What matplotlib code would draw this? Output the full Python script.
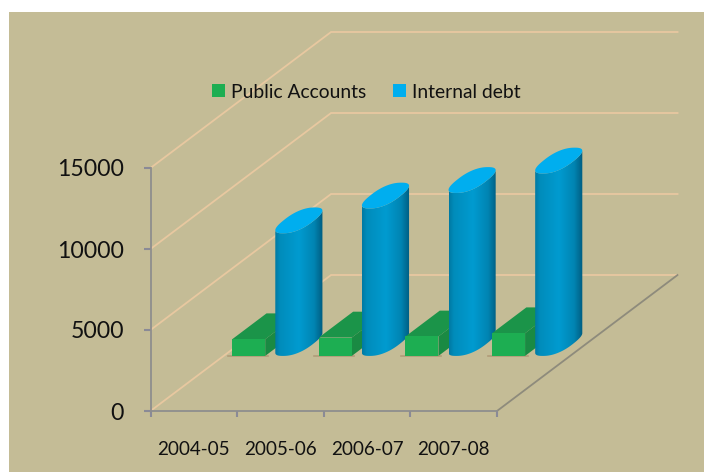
import numpy as np
import matplotlib
matplotlib.use("Agg")
import matplotlib.pyplot as plt
from matplotlib.patches import Rectangle, Polygon, Patch

years = ["2004-05", "2005-06", "2006-07", "2007-08"]
public_accounts = [1030, 1135, 1200, 1400]
internal_debt = [7570, 9100, 10060, 11260]
value_ticks = [0, 5000, 10000, 15000]

W, H = 704, 472
fig = plt.figure(figsize=(W / 100, H / 100), dpi=100, facecolor="white")
fig.patches.append(Rectangle((9 / W, 0), 1, 1 - 12 / H, transform=fig.transFigure,
                             facecolor="#C4BC96", edgecolor="none", zorder=-10))

ax = fig.add_axes([150.5 / W, 1 - 411 / H, 346.5 / W, 243 / H])
ax.patch.set_visible(False)

# Oblique projection: unit depth shifts a point right and up in data units
DEPTH_X = 180.5 / 86.6
DEPTH_Y = 136 / 243 * 15000
BAR_W = 0.381
BAR_D = 0.19
MID_D = 0.5
GROUP_X = 0.48


def pt(x, v, d):
    return (x + d * DEPTH_X, v + d * DEPTH_Y)


def poly(points, color, z):
    ax.add_patch(Polygon(points, closed=True, facecolor=color, edgecolor="none",
                         zorder=z, clip_on=False))


# Wall gridlines and floor edge
for v in value_ticks:
    a, b, c = pt(0, v, 0), pt(0, v, 1), pt(4, v, 1)
    ax.plot([a[0], b[0], c[0]], [a[1], b[1], c[1]], color="#E8C8A0", lw=1.3,
            zorder=1, clip_on=False, solid_joinstyle="miter")
a, b = pt(4, 0, 0), pt(4, 0, 1)
ax.plot([a[0], b[0]], [a[1], b[1]], color="#8E8B7C", lw=1.3, zorder=1, clip_on=False)

stops = [0.0, 0.1, 0.5, 0.82, 1.0]
cols = np.array([[0, 122, 163], [0, 140, 187], [0, 155, 208], [0, 132, 178], [0, 92, 128]]) / 255
xs = np.linspace(0, 1, 128)
gradient = np.stack([np.interp(xs, stops, cols[:, k]) for k in range(3)], axis=-1)[None, :, :]


def box(x0, value, z):
    d0, d1 = MID_D - BAR_D / 2, MID_D + BAR_D / 2
    x1 = x0 + BAR_W
    # contact shadow under the front edge
    s0, s1 = pt(x0 - 0.05, 0, d0), pt(x1 + 0.03, 0, d0)
    ax.plot([s0[0], s1[0]], [s0[1], s1[1]], color="#B09C78", lw=1.2, zorder=z, clip_on=False)
    poly([pt(x0, value, d0), pt(x1, value, d0), pt(x1, value, d1), pt(x0, value, d1)], "#1B9449", z + 0.1)
    poly([pt(x1, 0, d0), pt(x1, 0, d1), pt(x1, value, d1), pt(x1, value, d0)], "#1A8A43", z + 0.1)
    poly([pt(x0, 0, d0), pt(x1, 0, d0), pt(x1, value, d0), pt(x0, value, d0)], "#1DAE52", z + 0.2)


def cylinder(x0, value, z):
    rx, rd = BAR_W / 2, BAR_D / 2
    cx = x0 + rx
    mid_x = pt(cx, 0, MID_D)[0]
    t = np.linspace(0, 2 * np.pi, 361)[:-1]
    # slightly squared-off footprint gives the blunt ends of the cap
    c = np.sign(np.cos(t)) * np.abs(np.cos(t)) ** 0.82
    s = np.sign(np.sin(t)) * np.abs(np.sin(t)) ** 0.82
    xr = mid_x + (pt(cx + rx * c, 0, MID_D + rd * s)[0] - mid_x) * 0.93
    yr = pt(cx + rx * c, 0, MID_D + rd * s)[1] - pt(cx, 0, MID_D)[1]
    base_y = pt(cx, 0, MID_D)[1]

    i_max, i_min = int(np.argmax(xr)), int(np.argmin(xr))
    order = (i_min + np.arange(((i_max - i_min) % t.size) + 1)) % t.size
    outline = np.vstack([np.column_stack([xr[order], base_y + yr[order]]),
                         np.column_stack([xr[order[::-1]], base_y + value + yr[order[::-1]]])])
    body = Polygon(outline, closed=True, facecolor="none", edgecolor="none",
                   transform=ax.transData, zorder=z)
    ax.add_patch(body)
    im = ax.imshow(gradient, extent=(xr.min(), xr.max(), outline[:, 1].min(), outline[:, 1].max()),
                   aspect="auto", zorder=z, interpolation="bilinear")
    im.set_clip_path(body)
    im.set_clip_box(fig.bbox)
    poly(np.column_stack([xr, base_y + value + yr]), "#00AEEF", z + 0.1)


for i, (g, b) in enumerate(zip(public_accounts, internal_debt)):
    base = 2 + i
    box(i + GROUP_X - BAR_W, g, base)
    cylinder(i + GROUP_X, b, base + 0.5)

ax.set_xlim(0, 4)
ax.set_ylim(0, 15000)

for side in ("top", "right"):
    ax.spines[side].set_visible(False)
for side in ("left", "bottom"):
    ax.spines[side].set_color("#8E8E8E")
    ax.spines[side].set_linewidth(1.3)

ax.set_yticks(value_ticks)
ax.set_xticks(range(5))
ax.set_xticklabels([])
ax.set_xticks(np.arange(len(years)) + 0.5, labels=years, minor=True)
ax.tick_params(axis="x", which="major", length=4, width=1.5, color="#8A8A96")
ax.tick_params(axis="x", which="minor", length=0, pad=21.5, labelsize=13.6, labelcolor="#111111")
ax.tick_params(axis="y", length=5, width=1.5, color="#8A8A96", pad=14,
               labelsize=16.6, labelcolor="#111111")
for lab in ax.get_xticklabels(minor=True) + ax.get_yticklabels():
    lab.set_family("Lato")

handles = [Patch(facecolor="#1DAE52", label="Public Accounts"),
           Patch(facecolor="#00AEEF", label="Internal debt")]
fig.legend(handles=handles, loc="center", bbox_to_anchor=(366 / W, 1 - 92 / H), ncols=2,
           frameon=False, handlelength=0.68, handleheight=0.68, handletextpad=0.3,
           columnspacing=1.4, prop={"family": "Lato", "size": 13.9}, labelcolor="#111111")

fig.savefig("out.png", dpi=100, facecolor="white")
